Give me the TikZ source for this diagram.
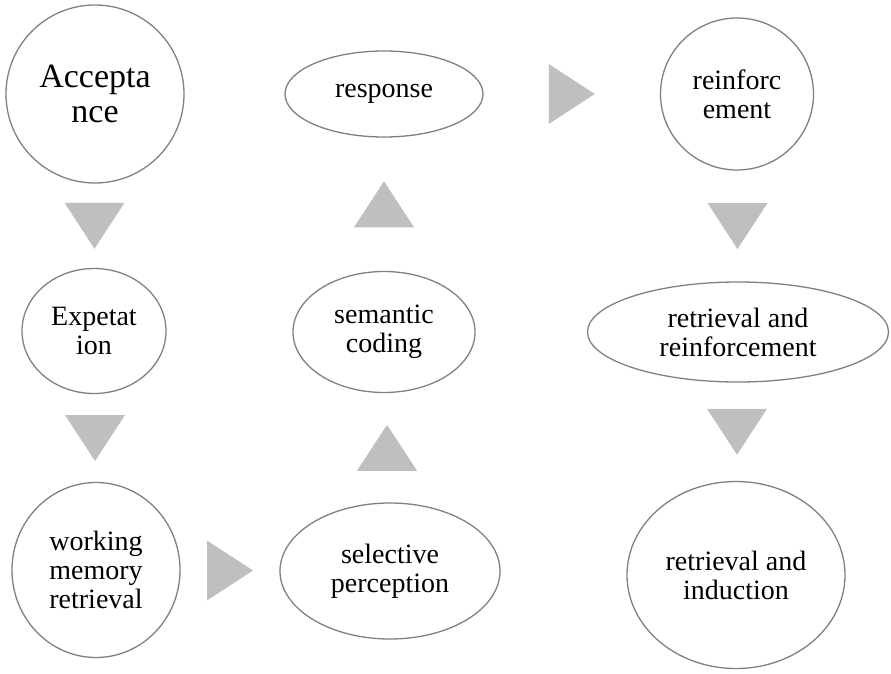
\documentclass[tikz,border=0pt]{standalone}
\usepackage{fontspec}
\setmainfont{Liberation Serif}
\usetikzlibrary{calc,shapes.geometric}

\definecolor{rimgray}{RGB}{128,128,128}
\definecolor{trigray}{RGB}{191,191,191}

\begin{document}
\begin{tikzpicture}[x=1pt,y=-1pt,
    stage/.style={ellipse,draw=rimgray,line width=1.3pt,inner sep=0pt,
      align=center,font=\fontsize{28pt}{29pt}\selectfont},
    pointer/.style={fill=trigray}]
    \useasboundingbox (0,0) rectangle (891,673);
    % left column
    \node[stage,minimum width=178pt,minimum height=178pt,
      font=\fontsize{34pt}{35pt}\selectfont] (accept) at (95,94) {Accepta\\nce};
    \node[stage,minimum width=144pt,minimum height=125pt] (expect) at (94,331) {Expetat\\ion};
    \node[stage,minimum width=168pt,minimum height=175pt] (work) at (96,570) {working\\memory\\retrieval};
    % middle column
    \node[stage,minimum width=220pt,minimum height=136pt] (select) at (390,571) {selective\\perception};
    \node[stage,minimum width=182pt,minimum height=121pt] (semantic) at (384,332) {semantic\\coding};
    \node[stage,minimum width=198pt,minimum height=86pt] (response) at (384,94) {response};
    % right column
    \node[stage,minimum width=153pt,minimum height=152pt] (reinf) at (737,94) {reinforc\\ement};
    \node[stage,minimum width=301pt,minimum height=100pt] (retreinf) at (738,332) {retrieval and\\reinforcement};
    \node[stage,minimum width=218pt,minimum height=187pt] (induct) at (736,575) {retrieval and\\induction};

    % grey triangles between the stages
    \coordinate (t1) at ($(accept.south)!0.5!(expect.north)$);
    \coordinate (t2) at ($(expect.south)!0.5!(work.north)$);
    \coordinate (t3) at ($(work.east)!0.5!(select.west)$);
    \coordinate (t4) at ($(select.north)!0.5!(semantic.south)$);
    \coordinate (t5) at ($(semantic.north)!0.5!(response.south)$);
    \coordinate (t6) at ($(response.east)!0.5!(reinf.west)$);
    \coordinate (t7) at ($(reinf.south)!0.5!(retreinf.north)$);
    \coordinate (t8) at ($(retreinf.south)!0.5!(induct.north)$);
    \fill[pointer,shift={(t1)},rotate=-90] (23,0) -- (-23,30) -- (-23,-30) -- cycle;
    \fill[pointer,shift={(t2)},rotate=-90] (23,0) -- (-23,30) -- (-23,-30) -- cycle;
    \fill[pointer,shift={(t3)}] (23,0) -- (-23,30) -- (-23,-30) -- cycle;
    \fill[pointer,shift={(t4)},rotate=90] (23,0) -- (-23,30) -- (-23,-30) -- cycle;
    \fill[pointer,shift={(t5)},rotate=90] (23,0) -- (-23,30) -- (-23,-30) -- cycle;
    \fill[pointer,shift={(t6)}] (23,0) -- (-23,30) -- (-23,-30) -- cycle;
    \fill[pointer,shift={(t7)},rotate=-90] (23,0) -- (-23,30) -- (-23,-30) -- cycle;
    \fill[pointer,shift={(t8)},rotate=-90] (23,0) -- (-23,30) -- (-23,-30) -- cycle;
\end{tikzpicture}
\end{document}
